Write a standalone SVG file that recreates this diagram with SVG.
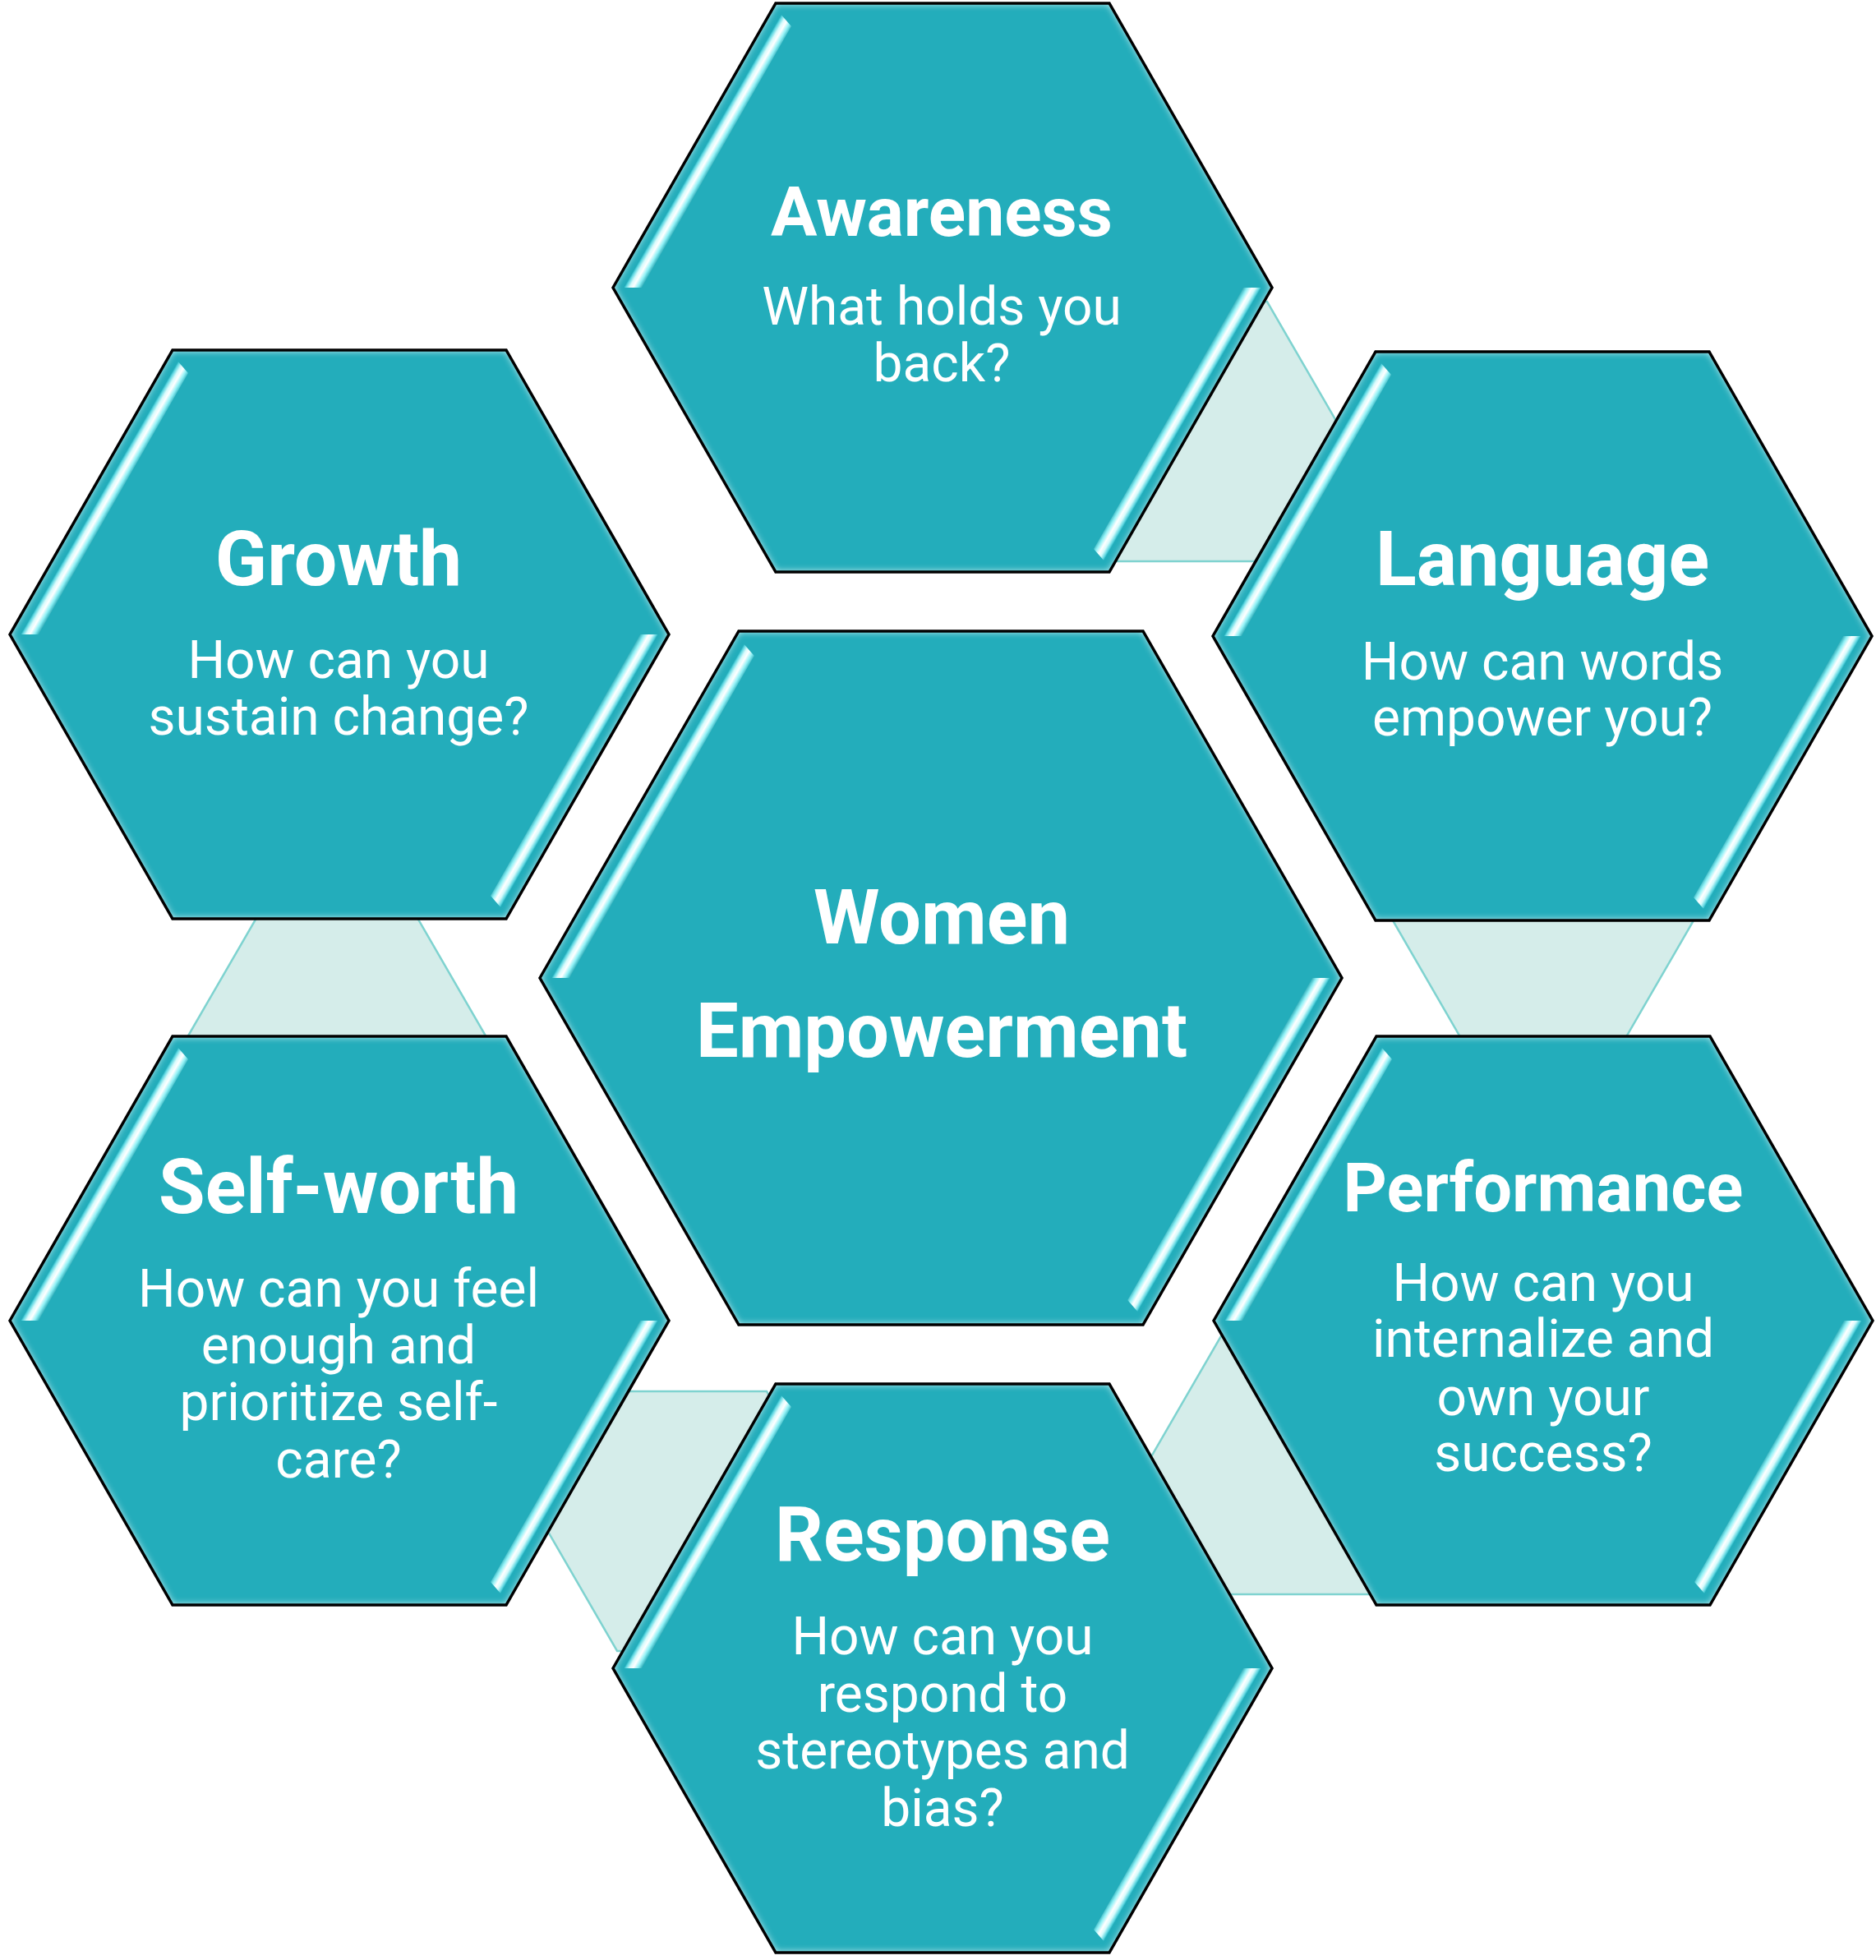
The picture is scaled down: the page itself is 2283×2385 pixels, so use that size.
<svg xmlns="http://www.w3.org/2000/svg" xmlns:xlink="http://www.w3.org/1999/xlink" width="2283" height="2385" viewBox="0 0 2283 2385">
<style>
.conn{fill:#d5edea;stroke:#7fd3d0;stroke-width:2.5;stroke-linejoin:miter}
.hexfill{fill:#23adbb}
.hexline{fill:none;stroke:#000;stroke-width:3.5;stroke-linejoin:miter}
.t{font-family:Roboto,"Liberation Sans",sans-serif;font-weight:bold;fill:#fff;text-anchor:middle}
.s{font-family:Roboto,"Liberation Sans",sans-serif;font-weight:normal;fill:#fff;text-anchor:middle;font-size:64px}
</style>
<defs>
<filter id="glow" x="-5%" y="-5%" width="110%" height="110%" color-interpolation-filters="sRGB">
<feGaussianBlur in="SourceAlpha" stdDeviation="5" result="blur"/>
<feComposite in="SourceAlpha" in2="blur" operator="out" result="rim"/>
<feFlood flood-color="#f0ffff" flood-opacity="1" result="col"/>
<feComposite in="col" in2="rim" operator="in" result="gl"/>
<feMerge><feMergeNode in="SourceGraphic"/><feMergeNode in="gl"/></feMerge>
</filter>
<filter id="soft" x="-10%" y="-10%" width="120%" height="120%"><feGaussianBlur stdDeviation="0.7"/></filter>
<linearGradient id="gUL" gradientUnits="userSpaceOnUse" x1="-388" y1="0" x2="-371.1" y2="9.75">
<stop offset="0" stop-color="#23adbb"/><stop offset="0.1" stop-color="#5fd8e2"/><stop offset="0.3" stop-color="#d8fbfc"/><stop offset="0.5" stop-color="#ffffff"/><stop offset="0.75" stop-color="#8df0f5"/><stop offset="1" stop-color="#2aa9b5"/>
</linearGradient>
<linearGradient id="gLR" gradientUnits="userSpaceOnUse" x1="388" y1="0" x2="371.1" y2="-9.75">
<stop offset="0" stop-color="#23adbb"/><stop offset="0.1" stop-color="#5fd8e2"/><stop offset="0.3" stop-color="#d8fbfc"/><stop offset="0.5" stop-color="#ffffff"/><stop offset="0.75" stop-color="#8df0f5"/><stop offset="1" stop-color="#2aa9b5"/>
</linearGradient>
<linearGradient id="gCUL" gradientUnits="userSpaceOnUse" x1="-474" y1="0" x2="-457.1" y2="9.75">
<stop offset="0" stop-color="#23adbb"/><stop offset="0.1" stop-color="#5fd8e2"/><stop offset="0.3" stop-color="#d8fbfc"/><stop offset="0.5" stop-color="#ffffff"/><stop offset="0.75" stop-color="#8df0f5"/><stop offset="1" stop-color="#2aa9b5"/>
</linearGradient>
<linearGradient id="gCLR" gradientUnits="userSpaceOnUse" x1="474" y1="0" x2="457.1" y2="-9.75">
<stop offset="0" stop-color="#23adbb"/><stop offset="0.1" stop-color="#5fd8e2"/><stop offset="0.3" stop-color="#d8fbfc"/><stop offset="0.5" stop-color="#ffffff"/><stop offset="0.75" stop-color="#8df0f5"/><stop offset="1" stop-color="#2aa9b5"/>
</linearGradient>
<g id="hexOuter">
<polygon class="hexfill" filter="url(#glow)" points="-401,0 -203,-346 203,-346 401,0 203,346 -203,346"/>
<g filter="url(#soft)">
<polygon fill="url(#gUL)" points="-388,0 -366,0 -184,-318 -198,-334"/>
<polygon fill="url(#gLR)" points="388,0 366,0 184,318 198,334"/>
</g>
<polygon class="hexline" points="-401,0 -203,-346 203,-346 401,0 203,346 -203,346"/>
</g>
<g id="hexCenter">
<polygon class="hexfill" filter="url(#glow)" points="-488,0 -246,-422 246,-422 488,0 246,422 -246,422"/>
<g filter="url(#soft)">
<polygon fill="url(#gCUL)" points="-474,0 -452,0 -227.2,-392 -241.2,-408"/>
<polygon fill="url(#gCLR)" points="474,0 452,0 227.2,392 241.2,408"/>
</g>
<polygon class="hexline" points="-488,0 -246,-422 246,-422 488,0 246,422 -246,422"/>
</g>
</defs>
<rect x="0" y="0" width="2283" height="2385" fill="#ffffff"/>
<g id="connectors">
<polygon class="conn" points="1268.5,525 1360,367 1542,367 1633.5,525 1542,683 1360,683"/>
<polygon class="conn" points="1695.5,1121 1787,963 1969,963 2060.5,1121 1969,1279 1787,1279"/>
<polygon class="conn" points="1395.5,1782 1487,1624 1669,1624 1760.5,1782 1669,1940 1487,1940"/>
<polygon class="conn" points="659.5,1851 751,1693 933,1693 1024.5,1851 933,2009 751,2009"/>
<polygon class="conn" points="227.5,1263 319,1105 501,1105 592.5,1263 501,1421 319,1421"/>
</g>
<g id="node-center">
<use xlink:href="#hexCenter" href="#hexCenter" transform="translate(1145,1190)"/>
<text class="t" x="1146" y="1148" font-size="92">Women</text>
<text class="t" x="1146" y="1286" font-size="92">Empowerment</text>
</g>
<g id="node-awareness">
<use xlink:href="#hexOuter" href="#hexOuter" transform="translate(1147,350)"/>
<text class="t" x="1146" y="287" font-size="84">Awareness</text>
<text class="s" x="1146" y="395">What holds you</text>
<text class="s" x="1146" y="464">back?</text>
</g>
<g id="node-language">
<use xlink:href="#hexOuter" href="#hexOuter" transform="translate(1877,774)"/>
<text class="t" x="1877" y="712" font-size="92">Language</text>
<text class="s" x="1877" y="827">How can words</text>
<text class="s" x="1877" y="895">empower you?</text>
</g>
<g id="node-performance">
<use xlink:href="#hexOuter" href="#hexOuter" transform="translate(1878,1607)"/>
<text class="t" x="1878" y="1474" font-size="83">Performance</text>
<text class="s" x="1878" y="1583">How can you</text>
<text class="s" x="1878" y="1651">internalize and</text>
<text class="s" x="1878" y="1722">own your</text>
<text class="s" x="1878" y="1790">success?</text>
</g>
<g id="node-response">
<use xlink:href="#hexOuter" href="#hexOuter" transform="translate(1147,2030)"/>
<text class="t" x="1147" y="1899" font-size="92">Response</text>
<text class="s" x="1147" y="2013">How can you</text>
<text class="s" x="1147" y="2083">respond to</text>
<text class="s" x="1147" y="2152">stereotypes and</text>
<text class="s" x="1147" y="2222">bias?</text>
</g>
<g id="node-selfworth">
<use xlink:href="#hexOuter" href="#hexOuter" transform="translate(413,1607)"/>
<text class="t" x="412" y="1476" font-size="92">Self-worth</text>
<text class="s" x="412" y="1590">How can you feel</text>
<text class="s" x="412" y="1659">enough and</text>
<text class="s" x="412" y="1728">prioritize self-</text>
<text class="s" x="412" y="1798">care?</text>
</g>
<g id="node-growth">
<use xlink:href="#hexOuter" href="#hexOuter" transform="translate(413,772)"/>
<text class="t" x="412" y="712" font-size="93">Growth</text>
<text class="s" x="412" y="825">How can you</text>
<text class="s" x="412" y="894">sustain change?</text>
</g>
</svg>
